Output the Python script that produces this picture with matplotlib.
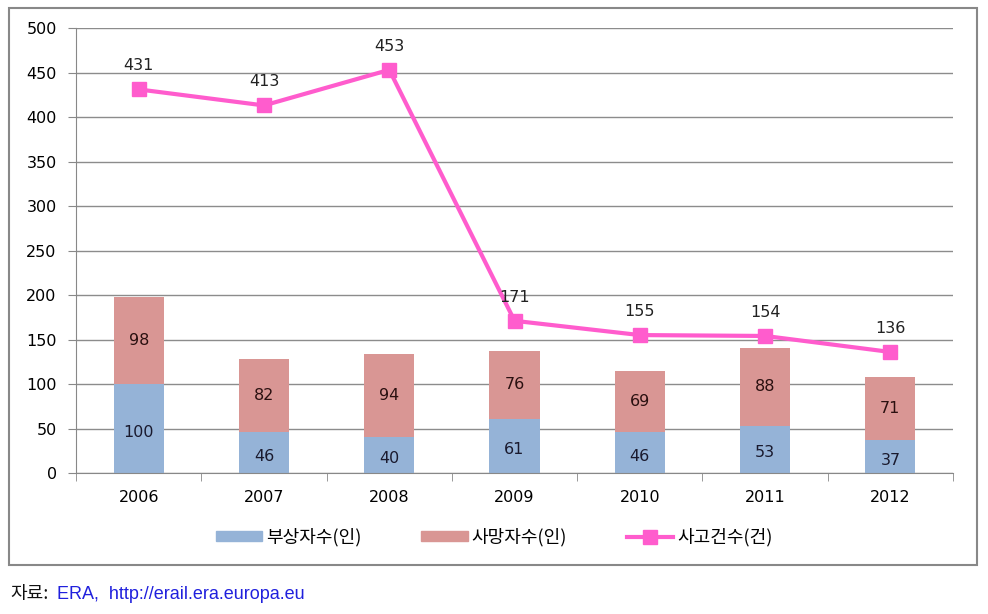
import matplotlib.pyplot as plt
import matplotlib.patches as mpatches
from matplotlib.lines import Line2D

plt.rcParams['font.family'] = ['Noto Sans CJK KR', 'DejaVu Sans']

years = ['2006', '2007', '2008', '2009', '2010', '2011', '2012']
injured = [100, 46, 40, 61, 46, 53, 37]
deaths = [98, 82, 94, 76, 69, 88, 71]
accidents = [431, 413, 453, 171, 155, 154, 136]

c_inj = '#95b3d7'
c_dth = '#d99694'
c_line = '#ff5ccd'

fig = plt.figure(figsize=(9.88, 6.14), dpi=100)
ax = fig.add_axes([0.077, 0.2296, 0.8876, 0.7248])

x = list(range(len(years)))
ax.bar(x, injured, width=0.4, color=c_inj, zorder=2)
ax.bar(x, deaths, width=0.4, bottom=injured, color=c_dth, zorder=2)
ax.plot(x, accidents, color=c_line, lw=3, marker='s', ms=10, zorder=3)

for i in x:
    ax.text(i, injured[i] / 2 - 4, str(injured[i]), ha='center', va='center',
            fontsize=11.5, color='#1a1a2e', family='DejaVu Sans', zorder=4)
    ax.text(i, injured[i] + deaths[i] / 2, str(deaths[i]), ha='center', va='center',
            fontsize=11.5, color='#2a1010', family='DejaVu Sans', zorder=4)
    ax.text(i, accidents[i] + 18, str(accidents[i]), ha='center', va='bottom',
            fontsize=11.5, color='#222222', family='DejaVu Sans', zorder=4)

ax.set_xlim(-0.5, len(years) - 0.5)
ax.set_ylim(0, 500)
ax.set_yticks(range(0, 501, 50))
ax.set_yticklabels([str(v) for v in range(0, 501, 50)], family='DejaVu Sans', fontsize=11.5)
ax.set_xticks(x)
ax.set_xticklabels(years, family='DejaVu Sans', fontsize=11.5)
ax.set_xticks([i + 0.5 for i in range(-1, len(years))], minor=True)
ax.tick_params(axis='x', which='major', length=0, pad=12)
ax.tick_params(axis='x', which='minor', length=6, color='#888888')
ax.tick_params(axis='y', length=6, color='#888888', pad=8)
ax.grid(axis='y', color='#8c8c8c', lw=1, zorder=0)
for s in ['top', 'right']:
    ax.spines[s].set_visible(False)
ax.spines['left'].set_color('#888888')
ax.spines['bottom'].set_color('#888888')

handles = [mpatches.Patch(color=c_inj, label='부상자수(인)'),
           mpatches.Patch(color=c_dth, label='사망자수(인)'),
           Line2D([0], [0], color=c_line, lw=3, marker='s', ms=10, label='사고건수(건)')]
fig.legend(handles=handles, loc='center', bbox_to_anchor=(0.5, 0.125), ncol=3,
           frameon=False, fontsize=13, handlelength=2.6, handleheight=0.5,
           columnspacing=3.3, handletextpad=0.2)

fig.patches.append(mpatches.Rectangle((0.009, 0.079), 0.98, 0.908, transform=fig.transFigure,
                                      fill=False, edgecolor='#888888', lw=1.5))

fig.text(0.01, 0.024, '자료:', fontsize=13, color='#111111')
fig.text(0.058, 0.024, 'ERA,  http://erail.era.europa.eu', fontsize=13, color='#2020dd',
         family=['Liberation Sans', 'DejaVu Sans'])

fig.savefig('out.png', dpi=100)
